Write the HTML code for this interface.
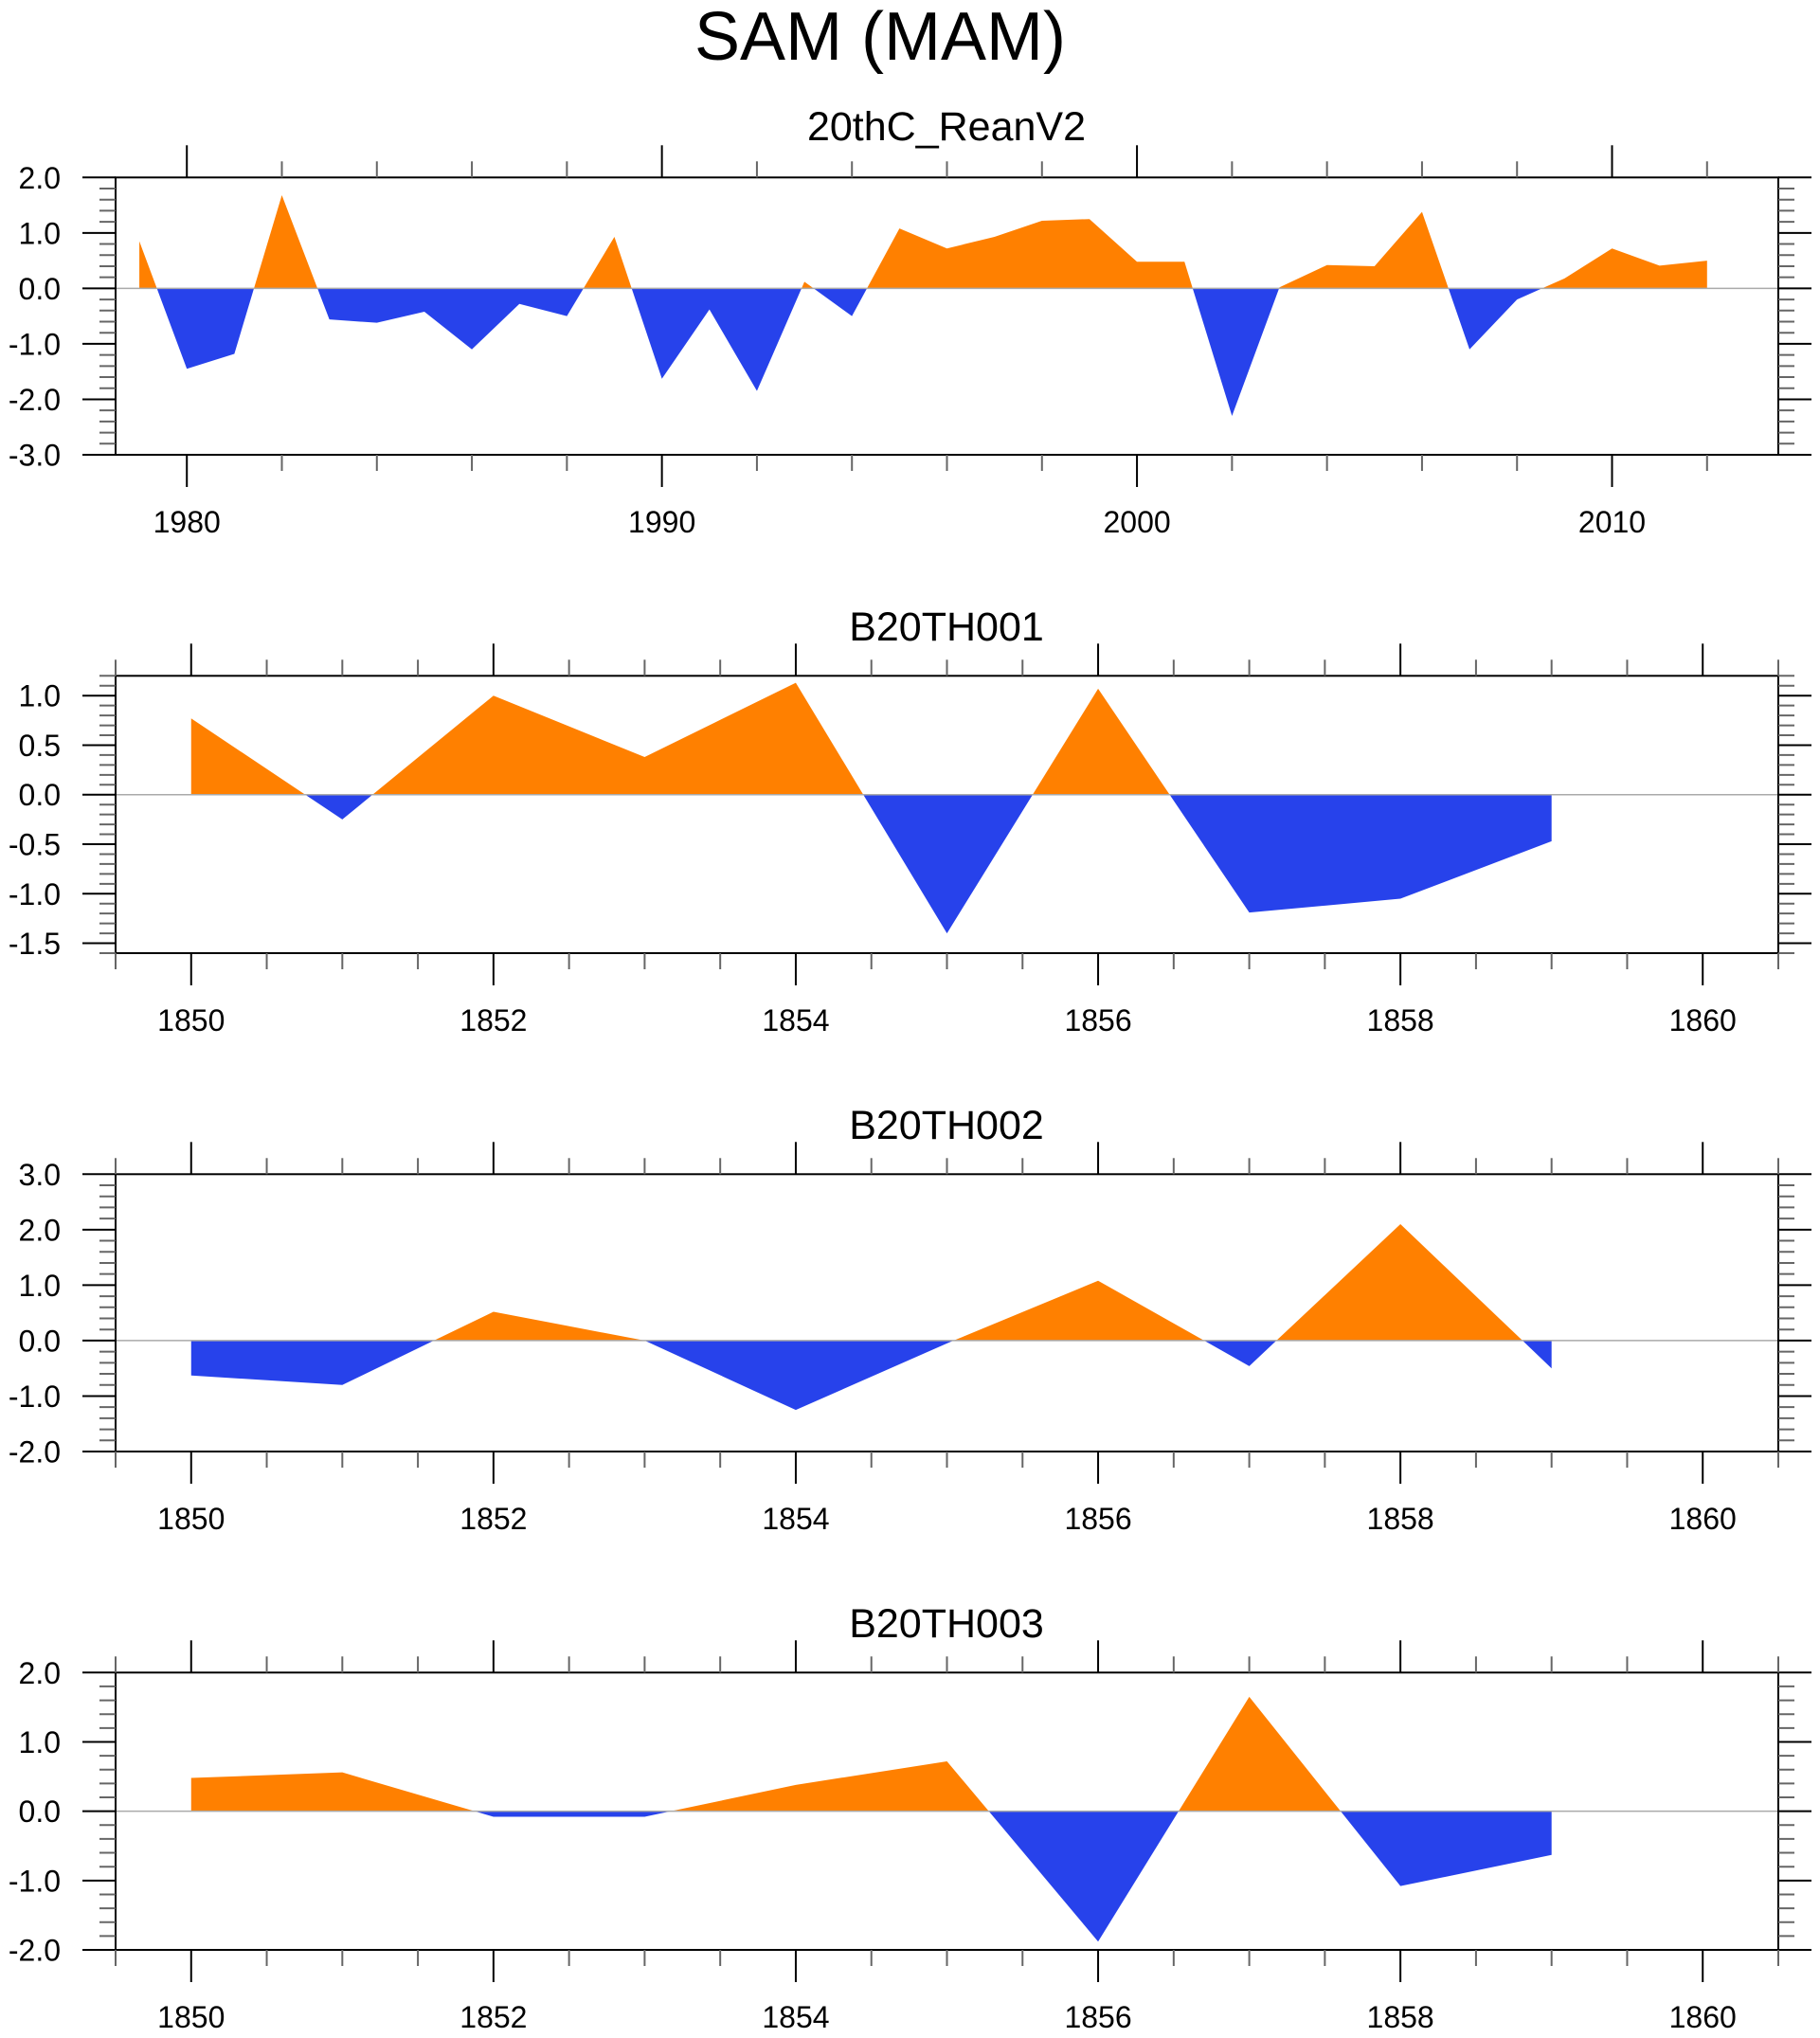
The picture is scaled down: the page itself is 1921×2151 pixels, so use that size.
<!DOCTYPE html>
<html><head><meta charset="utf-8"><style>
html,body{margin:0;padding:0;background:#fff;}
svg{display:block;font-family:"Liberation Sans",Arial,sans-serif;}
</style></head><body>
<svg id="chart" width="1921" height="2151" viewBox="0 0 1921 2151" xmlns="http://www.w3.org/2000/svg">
<text x="929" y="63" font-size="72" text-anchor="middle" fill="#000">SAM (MAM)</text>
</svg>
<script>
const reanYears = [];
for (let y = 1979; y <= 2012; y++) reanYears.push(y);
const reanValues = [0.85,-1.45,-1.18,1.68,-0.56,-0.62,-0.42,-1.1,-0.28,-0.5,0.93,-1.63,-0.38,-1.85,0.12,-0.5,1.08,0.72,0.93,1.22,1.25,0.48,0.48,-2.3,0.02,0.42,0.4,1.38,-1.1,-0.2,0.18,0.72,0.41,0.5];
const modelYears = [1850,1851,1852,1853,1854,1855,1856,1857,1858,1859];
const b001Values = [0.77,-0.25,1.0,0.38,1.13,-1.4,1.07,-1.19,-1.05,-0.47];
const b002Values = [-0.63,-0.8,0.52,0.0,-1.25,-0.05,1.08,-0.46,2.1,-0.5];
const b003Values = [0.48,0.56,-0.08,-0.08,0.38,0.72,-1.88,1.65,-1.08,-0.63];
const reanXTicks = [1980,1990,2000,2010];
const modelXTicks = [1850,1852,1854,1856,1858,1860];

const panels = [
  {name:'20thC_ReanV2', key:'rean', top:187.3, xs:reanYears, vs:reanValues, xmin:1978.5, xmax:2013.5, ymin:-3, ymax:2, yMajor:1, yMinor:0.2, yDec:1, xMajorList:reanXTicks, xMinor:2, titleY:148},
  {name:'B20TH001', key:'b001', top:713.3, xs:modelYears, vs:b001Values, xmin:1849.5, xmax:1860.5, ymin:-1.6, ymax:1.2, yMajor:0.5, yMinor:0.1, yDec:1, xMajorList:modelXTicks, xMinor:0.5, titleY:676},
  {name:'B20TH002', key:'b002', top:1239.3, xs:modelYears, vs:b002Values, xmin:1849.5, xmax:1860.5, ymin:-2, ymax:3, yMajor:1, yMinor:0.2, yDec:1, xMajorList:modelXTicks, xMinor:0.5, titleY:1202},
  {name:'B20TH003', key:'b003', top:1765.3, xs:modelYears, vs:b003Values, xmin:1849.5, xmax:1860.5, ymin:-2, ymax:2, yMajor:1, yMinor:0.2, yDec:1, xMajorList:modelXTicks, xMinor:0.5, titleY:1728}
];
const NS = 'http://www.w3.org/2000/svg';
const svg = document.getElementById('chart');
const L = 122, R = 1877, H = 292.7;
function mk(tag, attrs, parent){const e=document.createElementNS(NS,tag);for(const k in attrs)e.setAttribute(k,attrs[k]);(parent||svg).appendChild(e);return e;}

panels.forEach(p=>{
  const T=p.top, B=T+H;
  const g = mk('g',{});
  
  
  const xf = v => L + (v-p.xmin)/(p.xmax-p.xmin)*(R-L);
  const yf = v => B - (v-p.ymin)/(p.ymax-p.ymin)*H;
  const t = mk('text',{x:999,y:p.titleY,'font-size':43,'text-anchor':'middle',fill:'#000'},g);
  t.textContent = p.name;
  
  
  const y0 = yf(0);
  function area(sign,color,nm){
    let d='';
    for(let i=0;i<p.xs.length-1;i++){
      const a=p.vs[i]*sign, b=p.vs[i+1]*sign;
      const xa=xf(p.xs[i]), xb=xf(p.xs[i+1]);
      const pa=Math.max(a,0), pb=Math.max(b,0);
      if(pa===0&&pb===0) continue;
      let pts=[];
      if(a>=0&&b>=0){pts=[[xa,y0],[xa,yf(p.vs[i])],[xb,yf(p.vs[i+1])],[xb,y0]];}
      else { const f=a/(a-b); const xc=xa+f*(xb-xa);
        if(a>0) pts=[[xa,y0],[xa,yf(p.vs[i])],[xc,y0]];
        else pts=[[xc,y0],[xb,yf(p.vs[i+1])],[xb,y0]]; }
      d+='M'+pts.map(q=>q[0].toFixed(2)+','+q[1].toFixed(2)).join('L')+'Z';
    }
    const e=mk('path',{d:d,fill:color},g);
    
    
  }
  area(1,'#ff8000','positive-area');
  area(-1,'#2742eb','negative-area');
  const z=mk('line',{x1:L,x2:R,y1:y0,y2:y0,stroke:'#aaa','stroke-width':1.5},g);
  
  
  const fr=mk('rect',{x:L,y:T,width:R-L,height:H,fill:'none',stroke:'#000','stroke-width':2},g);
  
  
  const n=Math.round((p.ymax-p.ymin)/p.yMinor);
  for(let k=0;k<=n;k++){
    const v=p.ymin+k*p.yMinor; const y=yf(v);
    const isMaj=Math.abs(v/p.yMajor-Math.round(v/p.yMajor))<1e-6;
    const len=isMaj?35:17;
    mk('line',{x1:L-len,x2:L,y1:y,y2:y,stroke:isMaj?'#000':'#666','stroke-width':2},g);
    mk('line',{x1:R,x2:R+len,y1:y,y2:y,stroke:isMaj?'#000':'#666','stroke-width':2},g);
    if(isMaj){
      const tl=mk('text',{x:64,y:y+11.5,'font-size':32,'text-anchor':'end',fill:'#000'},g);
      tl.textContent=(Math.abs(v)<1e-9?0:v).toFixed(p.yDec);
      
      
    }
  }
  const start=Math.ceil(p.xmin/p.xMinor)*p.xMinor;
  for(let v=start; v<=p.xmax+1e-9; v+=p.xMinor){
    const x=xf(v);
    const isMaj=p.xMajorList.some(m=>Math.abs(m-v)<1e-6);
    const len=isMaj?34:17;
    mk('line',{x1:x,x2:x,y1:B,y2:B+len,stroke:isMaj?'#000':'#666','stroke-width':2},g);
    mk('line',{x1:x,x2:x,y1:T-len,y2:T,stroke:isMaj?'#000':'#666','stroke-width':2},g);
  }
  p.xMajorList.forEach(m=>{
    const tl=mk('text',{x:xf(m),y:B+82,'font-size':32,'text-anchor':'middle',fill:'#000'},g);
    tl.textContent=m;
    
    
  });
});
</script>
</body></html>
